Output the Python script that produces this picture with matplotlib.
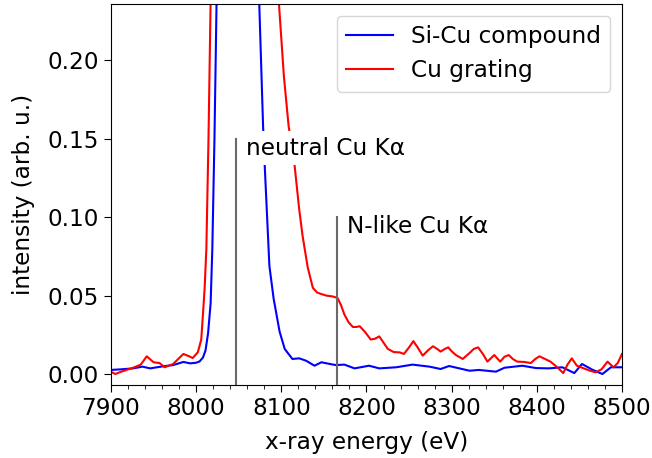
import matplotlib
matplotlib.use("Agg")
import matplotlib.pyplot as plt
from matplotlib.ticker import MultipleLocator

# Si-Cu compound (blue)
sicu_energy = [7900, 7912, 7926, 7937, 7946, 7961, 7973, 7985, 7993, 8000,
               8004, 8008, 8011, 8014, 8017, 8019, 8021.5, 8024, 8035, 8050,
               8065, 8074, 8078.6, 8080.5, 8086, 8091, 8098, 8104, 8113, 8121,
               8129, 8139, 8147, 8157, 8164, 8174, 8186, 8203, 8215, 8235,
               8254, 8274, 8287, 8297, 8321, 8332, 8352, 8362, 8383, 8399,
               8414, 8430, 8444, 8453, 8465, 8477, 8487, 8500]
sicu_int = [0.0026, 0.0030, 0.0036, 0.0047, 0.0036, 0.0049, 0.0057, 0.0077, 0.0068, 0.0072,
            0.0080, 0.0105, 0.0150, 0.026, 0.045, 0.08, 0.15, 0.238, 0.8, 1.0,
            0.8, 0.238, 0.158, 0.133, 0.069, 0.048, 0.027, 0.016, 0.0096, 0.0100,
            0.0085, 0.0053, 0.0075, 0.0064, 0.0057, 0.0060, 0.0036, 0.0053, 0.0036, 0.0043,
            0.0060, 0.0047, 0.0032, 0.0051, 0.0021, 0.0026, 0.0015, 0.0040, 0.0053, 0.0038,
            0.0036, 0.0043, 0.0006, 0.0064, 0.0028, 0.0000, 0.0043, 0.0043]

# Cu grating (red)
cu_energy = [7900, 7905, 7912, 7926, 7935, 7942, 7950, 7957, 7963, 7973,
             7985, 7991, 7996, 8002, 8006, 8008, 8010, 8012, 8014.5, 8017,
             8030, 8048, 8070, 8097, 8103, 8108.6, 8115.6, 8121, 8125, 8131,
             8137, 8142, 8147, 8153, 8160, 8166, 8170, 8174, 8179, 8184,
             8188, 8192, 8198, 8205, 8210, 8215, 8220, 8225, 8232, 8239,
             8244, 8250, 8255, 8260, 8266, 8272, 8278, 8283, 8287, 8292,
             8296, 8300, 8305, 8313, 8321, 8326, 8331, 8337, 8342, 8350,
             8357, 8362, 8367, 8372, 8377, 8385, 8393, 8398, 8403, 8410,
             8416, 8424, 8431, 8436, 8441, 8447, 8457, 8463, 8469, 8476,
             8483, 8490, 8495, 8500]
cu_int = [0.0015, 0.0000, 0.0015, 0.0040, 0.0060, 0.0113, 0.0075, 0.0070, 0.0043, 0.0064,
          0.0128, 0.0115, 0.0102, 0.0139, 0.022, 0.038, 0.055, 0.08, 0.15, 0.238,
          0.9, 1.0, 0.8, 0.238, 0.19, 0.158, 0.133, 0.105, 0.088, 0.068,
          0.055, 0.052, 0.051, 0.050, 0.0495, 0.0485, 0.044, 0.038, 0.033, 0.030,
          0.030, 0.0305, 0.027, 0.022, 0.0225, 0.024, 0.020, 0.016, 0.014, 0.0138,
          0.0128, 0.017, 0.021, 0.017, 0.0117, 0.015, 0.0177, 0.016, 0.0143, 0.016,
          0.017, 0.0145, 0.0121, 0.0096, 0.0134, 0.016, 0.017, 0.0125, 0.0079, 0.0121,
          0.0079, 0.011, 0.0121, 0.0095, 0.0079, 0.0077, 0.0070, 0.0095, 0.0113, 0.0095,
          0.0079, 0.0043, 0.0006, 0.006, 0.0100, 0.0053, 0.0032, 0.0020, 0.0011, 0.0030,
          0.0079, 0.0043, 0.0070, 0.0128]

line_energies = [8047, 8165]
line_tops = [0.15, 0.10]
line_labels = ["neutral Cu K\u03b1", "N-like Cu K\u03b1"]

plt.rcParams["font.size"] = 16.7

fig = plt.figure(figsize=(6.52, 4.58), dpi=100)
ax = fig.add_axes([0.1702, 0.1594, 0.7838, 0.8319])

ax.plot(sicu_energy, sicu_int, color="blue", lw=1.5, label="Si-Cu compound")
ax.plot(cu_energy, cu_int, color="red", lw=1.5, label="Cu grating")

ymin, ymax = -0.007, 0.236
for e, top, lab in zip(line_energies, line_tops, line_labels):
    ax.plot([e, e], [ymin, top], color="dimgray", lw=1.5)
    ax.text(e + 12, top - 0.006, lab, va="center", ha="left",
            bbox=dict(facecolor="white", edgecolor="none"))

ax.set_xlim(7900, 8500)
ax.set_ylim(ymin, ymax)
ax.xaxis.set_major_locator(MultipleLocator(100))
ax.xaxis.set_minor_locator(MultipleLocator(20))
ax.yaxis.set_major_locator(MultipleLocator(0.05))
ax.tick_params(which="major", length=5)
ax.tick_params(which="minor", length=2.8)

ax.set_xlabel("x-ray energy (eV)", labelpad=8)
ax.set_ylabel("intensity (arb. u.)", labelpad=9)
ax.legend(loc="upper right")

fig.savefig("out.png", dpi=100)
